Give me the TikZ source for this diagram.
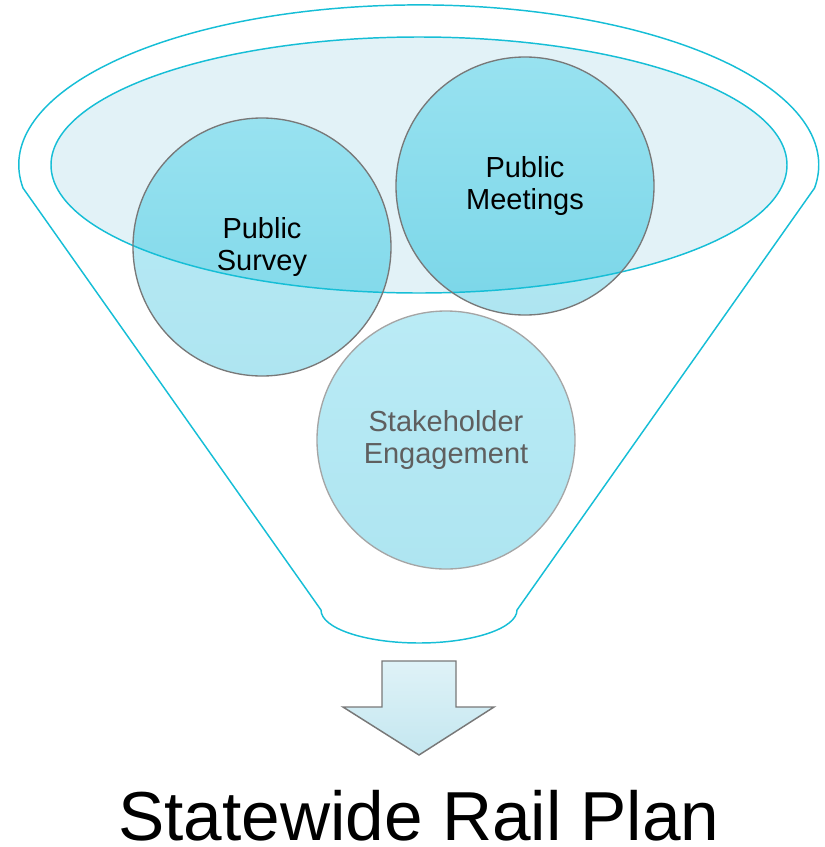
\documentclass[tikz,border=0pt]{standalone}
\usepackage{fontspec}
\setmainfont{Liberation Sans}

\tikzset{every picture/.style={line width=0.75pt}}
\tikzset{
  funnel line/.style={draw={rgb, 255:red, 22; green, 190; blue, 214 }, line width=1.1pt},
  bowl fill/.style={fill={rgb, 255:red, 226; green, 242; blue, 247 }},
  bubble light/.style={top color={rgb, 255:red, 186; green, 235; blue, 245 }, bottom color={rgb, 255:red, 174; green, 229; blue, 241 }, draw=none},
  bubble dark/.style={top color={rgb, 255:red, 152; green, 226; blue, 240 }, bottom color={rgb, 255:red, 122; green, 214; blue, 232 }, draw=none},
  bubble/.style={circle, minimum size=193.5pt, inner sep=0pt, align=center, line width=1pt, font=\fontsize{21.75}{23.5}\selectfont},
  down arrow/.style={top color={rgb, 255:red, 223; green, 242; blue, 247 }, bottom color={rgb, 255:red, 196; green, 231; blue, 240 }, draw={rgb, 255:red, 120; green, 120; blue, 120 }, line width=1.1pt, line join=miter}
}

\begin{document}
\begin{tikzpicture}[x=0.75pt,y=0.75pt,yscale=-1,xscale=1]
\useasboundingbox (0,0) rectangle (825,847);

\coordinate (survey c) at (262,247);
\coordinate (meetings c) at (525,186);
\coordinate (stake c) at (446,440);

%Shape: Funnel
\draw [funnel line] (321,610) -- (23,188) arc [start angle=171.7, end angle=368.3, x radius=400, y radius=160] -- (517,610) arc [start angle=0, end angle=180, x radius=98, y radius=33] -- cycle ;
%Shape: Ellipse
\fill [bowl fill] (419,165) ellipse [x radius=368, y radius=128] ;

%Shape: Circles
\path [bubble light] (survey c) circle [radius=129] ;
\path [bubble light] (meetings c) circle [radius=129] ;
\path [bubble light] (stake c) circle [radius=129] ;
\begin{scope}
\clip (419,165) ellipse [x radius=368, y radius=128] ;
\path [bubble dark] (survey c) circle [radius=129] ;
\path [bubble dark] (meetings c) circle [radius=129] ;
\end{scope}

%Shape: Ellipse
\draw [funnel line] (419,165) ellipse [x radius=368, y radius=128] ;

% Text Node
\node [bubble, draw={rgb, 255:red, 120; green, 120; blue, 120 }] (survey) at (survey c) {Public\\Survey};
% Text Node
\node [bubble, draw={rgb, 255:red, 120; green, 120; blue, 120 }] (meetings) at (meetings c) {Public\\Meetings};
% Text Node
\node [bubble, draw={rgb, 255:red, 165; green, 165; blue, 165 }, text={rgb, 255:red, 95; green, 95; blue, 95 }] (stake) at (stake c) {Stakeholder\\Engagement};

%Shape: Down Arrow
\path [down arrow] (382,661) -- (456,661) -- (456,707) -- (494,707) -- (419,755) -- (343,707) -- (382,707) -- cycle ;

% Text Node
\node [anchor=base, inner sep=0pt, font=\fontsize{52}{60}\selectfont] (plan) at (419,840) {Statewide Rail Plan};

\end{tikzpicture}
\end{document}
